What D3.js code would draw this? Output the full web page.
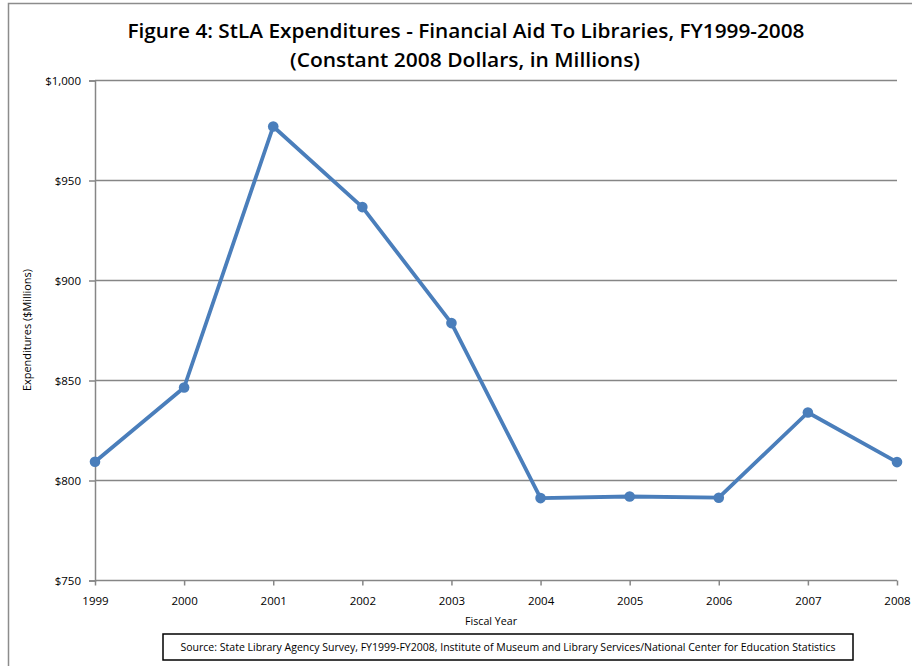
<!DOCTYPE html>
<html>
<head>
<meta charset="utf-8">
<script src="https://cdn.jsdelivr.net/npm/d3@7"></script>
<style>
  html, body { margin: 0; padding: 0; background: #fff; }
  svg { display: block; }
  text { font-family: "Open Sans", "Liberation Sans", sans-serif; }
</style>
</head>
<body>
<svg id="chart" width="912" height="666"></svg>
<script>
const years = ["1999","2000","2001","2002","2003","2004","2005","2006","2007","2008"];
const expenditures = [809.4, 846.5, 977.0, 936.7, 878.7, 791.2, 792.0, 791.4, 834.0, 809.2];
const yTicks = [750, 800, 850, 900, 950, 1000];
const titleLines = ["Figure 4: StLA Expenditures - Financial Aid To Libraries, FY1999-2008", "(Constant 2008 Dollars, in Millions)"];
const yAxisTitle = "Expenditures ($Millions)";
const xAxisTitle = "Fiscal Year";
const sourceText = "Source: State Library Agency Survey, FY1999-FY2008, Institute of Museum and Library Services/National Center for Education Statistics";

const svg = d3.select("#chart");
const gray = "#868686";

// outer chart border
svg.append("rect").attr("x", 8.5).attr("y", 3.5).attr("width", 920).attr("height", 680)
  .attr("fill", "none").attr("stroke", "#8c8c8c").attr("stroke-width", 1.5);

const mLeft = 95, mRight = 897, mTop = 80.5, mBottom = 580.5;
const x = d3.scalePoint().domain(years).range([mLeft, mRight]);
const y = d3.scaleLinear().domain([750, 1000]).range([mBottom, mTop]);

// gridlines
svg.append("g").selectAll("line").data(yTicks.filter(d => d > 750)).join("line")
  .attr("x1", mLeft).attr("x2", mRight).attr("y1", d => y(d)).attr("y2", d => y(d))
  .attr("stroke", gray).attr("stroke-width", 1.5);

// y axis
const yAxis = d3.axisLeft(y).tickValues(yTicks).tickSize(6).tickPadding(8)
  .tickFormat(d => "$" + d3.format(",")(d));
const gy = svg.append("g").attr("transform", `translate(${mLeft},0)`).call(yAxis);
gy.select(".domain").attr("stroke", gray).attr("stroke-width", 1.5);
gy.selectAll(".tick line").attr("stroke", gray).attr("stroke-width", 1.5);
gy.selectAll(".tick text").attr("fill", "#000")
  .style("font-family", "'Open Sans', sans-serif").attr("font-size", 11.5);

// x axis
const xAxis = d3.axisBottom(x).tickSize(5).tickPadding(11);
const gx = svg.append("g").attr("transform", `translate(0,${mBottom})`).call(xAxis);
gx.select(".domain").attr("stroke", gray).attr("stroke-width", 1.5).attr("d", `M${mLeft},0H${mRight}`);
gx.selectAll(".tick line").attr("stroke", gray).attr("stroke-width", 1.5);
gx.selectAll(".tick text").attr("fill", "#000")
  .style("font-family", "'Open Sans', sans-serif").attr("font-size", 11.5);

// line
const line = d3.line().x((d, i) => x(years[i])).y(d => y(d));
svg.append("path").datum(expenditures).attr("d", line)
  .attr("fill", "none").attr("stroke", "#4a7ebb").attr("stroke-width", 3.8)
  .attr("stroke-linejoin", "round");
svg.append("g").selectAll("circle").data(expenditures).join("circle")
  .attr("cx", (d, i) => x(years[i])).attr("cy", d => y(d)).attr("r", 5.3)
  .attr("fill", "#4a7ebb");

// title
svg.append("text").attr("x", 466).attr("y", 38).attr("text-anchor", "middle")
  .attr("font-size", 19).attr("font-weight", 600).attr("textLength", 677)
  .attr("lengthAdjust", "spacingAndGlyphs").text(titleLines[0]);
svg.append("text").attr("x", 465).attr("y", 67).attr("text-anchor", "middle")
  .attr("font-size", 19).attr("font-weight", 600).attr("textLength", 350)
  .attr("lengthAdjust", "spacingAndGlyphs").text(titleLines[1]);

// axis titles
svg.append("text").attr("transform", "translate(31,330) rotate(-90)")
  .attr("text-anchor", "middle").attr("font-size", 10)
  .attr("textLength", 122).attr("lengthAdjust", "spacingAndGlyphs").text(yAxisTitle);
svg.append("text").attr("x", 491).attr("y", 625).attr("text-anchor", "middle")
  .attr("font-size", 10).attr("textLength", 52).attr("lengthAdjust", "spacingAndGlyphs").text(xAxisTitle);

// source box
svg.append("rect").attr("x", 163).attr("y", 634).attr("width", 690).attr("height", 26)
  .attr("fill", "#fff").attr("stroke", "#000").attr("stroke-width", 1.5);
svg.append("text").attr("x", 508).attr("y", 651).attr("text-anchor", "middle")
  .attr("font-size", 10).attr("textLength", 655).attr("lengthAdjust", "spacingAndGlyphs").text(sourceText);
</script>
</body>
</html>
